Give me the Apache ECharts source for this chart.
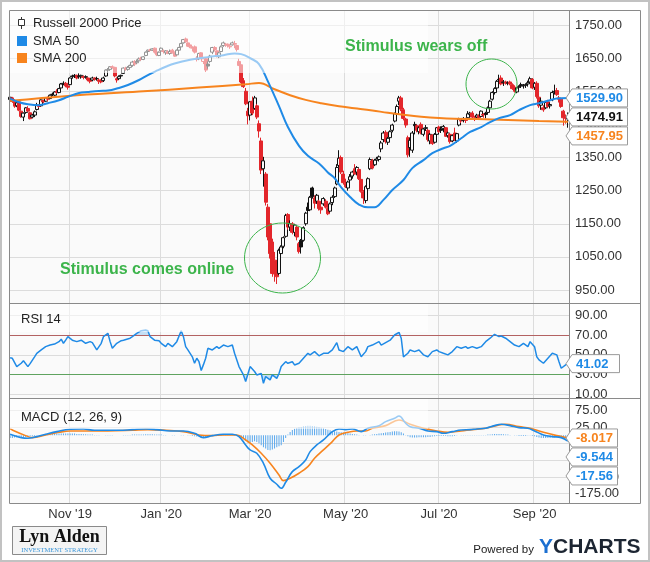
<!DOCTYPE html>
<html>
<head>
<meta charset="utf-8">
<script src="https://cdn.jsdelivr.net/npm/echarts@6/dist/echarts.min.js"></script>
<style>
html,body{margin:0;padding:0;background:#fff;}
#chart{width:650px;height:562px;}
</style>
</head>
<body>
<div id="chart"></div>
<script>
// ---------- trading days (categories) ----------
const tradingMonths = [
  ['2019-09',[25,26,27,30]],
  ['2019-10',[1,2,3,4,7,8,9,10,11,14,15,16,17,18,21,22,23,24,25,28,29,30,31]],
  ['2019-11',[1,4,5,6,7,8,11,12,13,14,15,18,19,20,21,22,25,26,27,29]],
  ['2019-12',[2,3,4,5,6,9,10,11,12,13,16,17,18,19,20,23,24,26,27,30,31]],
  ['2020-01',[2,3,6,7,8,9,10,13,14,15,16,17,21,22,23,24,27,28,29,30,31]],
  ['2020-02',[3,4,5,6,7,10,11,12,13,14,18,19,20,21,24,25,26,27,28]],
  ['2020-03',[2,3,4,5,6,9,10,11,12,13,16,17,18,19,20,23,24,25,26,27,30,31]],
  ['2020-04',[1,2,3,6,7,8,9,13,14,15,16,17,20,21,22,23,24,27,28,29,30]],
  ['2020-05',[1,4,5,6,7,8,11,12,13,14,15,18,19,20,21,22,26,27,28,29]],
  ['2020-06',[1,2,3,4,5,8,9,10,11,12,15,16,17,18,19,22,23,24,25,26,29,30]],
  ['2020-07',[1,2,6,7,8,9,10,13,14,15,16,17,20,21,22,23,24,27,28,29,30,31]],
  ['2020-08',[3,4,5,6,7,10,11,12,13,14,17,18,19,20,21,24,25,26,27,28,31]],
  ['2020-09',[1,2,3,4,8,9,10,11,14,15,16,17,18,21,22,23]]
];
const tickMonths = ['2019-11','2020-01','2020-03','2020-05','2020-07','2020-09'];
const tickLabels = ["Nov '19","Jan '20","Mar '20","May '20","Jul '20","Sep '20"];
const priceTicks = {min:950, max:1750, step:100};
const rsiTicks = {min:10, max:90, step:20};
const macdTicks = {min:-175, max:75, step:50};

// ---------- daily candles [open, high, low, close] ----------
const ohlcSep19 = [[1525,1537,1515,1532],[1530,1533,1515,1519],[1520,1526,1500,1505],[1506,1520,1502,1515]];
const ohlcOct19 = [
[1518,1522,1490,1493],[1490,1492,1470,1474],[1472,1486,1460,1484],[1486,1502,1482,1500],[1498,1505,1488,1490],
[1485,1488,1465,1467],[1472,1482,1468,1478],[1478,1492,1472,1488],[1495,1515,1492,1508],[1506,1510,1500,1504],
[1506,1526,1504,1524],[1522,1525,1514,1518],[1520,1532,1518,1530],[1530,1534,1520,1526],[1528,1540,1526,1538],
[1540,1546,1535,1541],[1538,1550,1535,1548],[1550,1556,1542,1546],[1546,1560,1544,1558],[1560,1575,1558,1572],
[1572,1580,1568,1574],[1574,1578,1562,1566],[1566,1570,1555,1562]];
const ohlcNov19 = [
[1570,1592,1568,1590],[1594,1600,1588,1596],[1596,1602,1590,1598],[1598,1600,1586,1590],[1594,1604,1588,1596],
[1594,1600,1588,1598],[1594,1598,1586,1592],[1592,1598,1588,1594],[1590,1592,1580,1584],[1584,1588,1574,1580],
[1584,1594,1580,1590],[1590,1592,1582,1586],[1588,1594,1582,1588],[1584,1588,1572,1580],[1580,1586,1574,1578],
[1582,1594,1578,1590],[1596,1616,1594,1614],[1614,1620,1608,1615],[1616,1626,1612,1624],[1624,1628,1618,1622]];
const ohlcDec19 = [
[1622,1624,1592,1596],[1588,1592,1576,1584],[1588,1598,1584,1594],[1596,1600,1590,1598],[1604,1622,1602,1620],
[1620,1624,1612,1616],[1616,1626,1612,1622],[1622,1630,1618,1628],[1628,1642,1624,1638],[1640,1644,1626,1632],
[1636,1646,1632,1640],[1642,1652,1640,1648],[1650,1654,1642,1646],[1646,1656,1644,1654],[1658,1670,1656,1668],
[1670,1676,1666,1674],[1674,1678,1670,1673],[1674,1680,1672,1678],[1680,1682,1664,1668],[1668,1670,1656,1660],
[1658,1670,1656,1668]];
const ohlcJan20 = [
[1672,1682,1662,1680],[1670,1676,1664,1672],[1666,1674,1660,1672],[1670,1674,1662,1664],[1664,1676,1660,1670],
[1674,1678,1664,1666],[1668,1670,1654,1656],[1660,1676,1658,1674],[1674,1684,1672,1682],[1684,1696,1680,1694],
[1696,1708,1694,1706],[1708,1712,1696,1700],[1696,1698,1684,1686],[1690,1694,1680,1684],[1680,1686,1670,1682],
[1684,1688,1664,1668],[1650,1656,1640,1646],[1648,1666,1644,1664],[1666,1668,1648,1650],[1640,1650,1632,1648],
[1648,1650,1608,1614]];
const ohlcFeb20 = [
[1632,1640,1618,1626],[1640,1660,1636,1656],[1668,1684,1662,1682],[1682,1686,1670,1676],[1672,1674,1652,1656],
[1654,1668,1650,1666],[1670,1688,1668,1684],[1688,1700,1684,1696],[1690,1696,1684,1692],[1692,1694,1682,1688],
[1684,1690,1678,1686],[1690,1700,1688,1696],[1694,1702,1680,1692],[1688,1690,1670,1676],[1640,1648,1626,1628],
[1630,1634,1574,1578],[1582,1590,1560,1564],[1550,1560,1508,1512],[1490,1500,1450,1476]];
const ohlcMar20 = [
[1478,1520,1462,1518],[1520,1534,1478,1484],[1498,1536,1494,1530],[1506,1512,1466,1472],[1452,1462,1410,1430],
[1400,1410,1300,1312],[1316,1352,1262,1340],[1300,1306,1205,1215],[1200,1210,1100,1110],[1150,1190,1045,1060],
[1095,1105,990,1000],[1040,1065,975,998],[1030,1040,968,990],[1000,1075,995,1070],[1060,1085,1045,1080],
[1082,1112,1076,1108],[1112,1180,1108,1175],[1178,1182,1132,1140],[1140,1160,1128,1150],[1150,1155,1118,1124],
[1124,1150,1112,1146],[1140,1144,1100,1110]];
const ohlcApr20 = [
[1090,1095,1060,1066],[1100,1104,1060,1080],[1100,1142,1096,1138],[1150,1186,1144,1182],[1200,1214,1176,1190],
[1192,1234,1188,1230],[1258,1262,1226,1232],[1228,1236,1196,1212],[1218,1240,1210,1236],[1218,1222,1190,1196],
[1200,1212,1180,1192],[1210,1230,1204,1226],[1218,1224,1196,1200],[1196,1200,1176,1180],[1188,1214,1184,1210],
[1214,1236,1206,1230],[1232,1262,1228,1258],[1270,1330,1266,1320],[1326,1372,1320,1348],[1350,1356,1300,1306],
[1300,1310,1268,1274]];
const ohlcMay20 = [
[1272,1286,1258,1262],[1258,1280,1250,1276],[1282,1300,1276,1292],[1294,1310,1286,1306],[1316,1330,1298,1300],
[1306,1324,1296,1320],[1314,1318,1282,1286],[1284,1290,1244,1248],[1246,1252,1210,1228],[1220,1266,1212,1262],
[1256,1290,1250,1286],[1316,1350,1312,1344],[1340,1346,1314,1318],[1328,1346,1324,1342],[1342,1352,1334,1346],
[1344,1356,1338,1352],[1376,1400,1366,1394],[1404,1430,1396,1424],[1426,1432,1392,1398],[1396,1412,1388,1408]];
const ohlcJun20 = [
[1410,1432,1406,1428],[1432,1452,1426,1448],[1460,1486,1456,1482],[1482,1510,1476,1504],[1520,1536,1508,1530],
[1530,1536,1490,1496],[1494,1500,1462,1468],[1466,1470,1440,1448],[1410,1416,1350,1358],[1380,1410,1352,1402],
[1372,1430,1364,1424],[1450,1458,1420,1446],[1446,1450,1426,1432],[1428,1444,1420,1440],[1450,1456,1420,1424],
[1420,1440,1414,1436],[1440,1448,1430,1438],[1432,1436,1398,1404],[1400,1424,1390,1420],[1418,1420,1388,1392],
[1396,1424,1392,1420],[1420,1442,1414,1440]];
const ohlcJul20 = [
[1442,1446,1424,1428],[1436,1444,1424,1432],[1438,1448,1426,1444],[1440,1442,1412,1414],[1416,1428,1410,1424],
[1420,1424,1392,1398],[1400,1420,1396,1416],[1424,1440,1400,1404],[1400,1424,1394,1422],[1448,1470,1444,1466],
[1462,1468,1454,1460],[1462,1472,1456,1468],[1466,1470,1454,1462],[1470,1490,1466,1482],[1480,1488,1474,1484],
[1484,1490,1466,1472],[1468,1476,1460,1470],[1472,1482,1468,1478],[1476,1480,1466,1470],[1474,1492,1472,1490],
[1480,1484,1470,1478],[1484,1488,1468,1480]];
const ohlcAug20 = [
[1486,1504,1482,1500],[1500,1524,1496,1520],[1526,1550,1522,1546],[1546,1562,1540,1558],[1560,1584,1556,1580],
[1586,1600,1574,1584],[1590,1598,1568,1572],[1576,1584,1566,1578],[1578,1582,1570,1574],[1574,1580,1568,1576],
[1578,1582,1568,1572],[1570,1574,1554,1558],[1562,1568,1546,1550],[1548,1562,1544,1560],[1562,1568,1556,1564],
[1570,1576,1560,1566],[1566,1572,1558,1568],[1568,1574,1560,1570],[1572,1582,1564,1576],[1578,1594,1574,1588],
[1586,1590,1556,1560]];
const ohlcSep20 = [
[1562,1578,1554,1574],[1574,1580,1528,1534],[1532,1540,1500,1506],[1508,1530,1494,1520],[1500,1508,1488,1494],
[1500,1520,1496,1516],[1518,1524,1500,1504],[1506,1516,1498,1510],[1524,1552,1520,1546],[1550,1570,1540,1548],
[1552,1560,1536,1540],[1530,1536,1516,1526],[1526,1530,1500,1504],[1490,1494,1446,1470],[1472,1480,1452,1468],
[1466,1486,1440,1474.91]];

// ---------- moving averages, read as [day index, value] ----------
const sma50Pts = [[0,1528],[4,1517],[8,1511],[13,1508],[17,1514],[22,1523],[26,1533],[31,1545],[35,1548],[40,1551],
[44,1552],[49,1560],[53,1569],[58,1584],[62,1599],[66,1612],[70,1624],[74,1634],[81,1645],[89,1653],[96,1659],
[101,1664],[104,1662],[108,1650],[112,1632],[116,1580],[121,1505],[125,1442],[130,1385],[134,1355],[139,1332],
[143,1305],[146,1288],[149,1260],[153,1231],[157,1208],[161,1200],[164,1200],[168,1222],[172,1252],[177,1282],
[181,1318],[186,1342],[190,1363],[195,1378],[198,1385],[203,1408],[207,1427],[212,1442],[216,1457],[220,1469],
[225,1478],[229,1493],[234,1508],[238,1514],[243,1523],[246,1528],[251,1529.90]];
const sma200Pts = [[0,1521],[26,1536],[58,1549],[85,1561],[106,1571],[112,1575],[119,1556],[126,1538],[133,1524],
[140,1514],[148,1505],[155,1499],[163,1492],[170,1485],[178,1478],[185,1473],[193,1469],[200,1467],[210,1466],
[224,1463],[238,1460],[251,1457.95]];

// ---------- RSI 14 ----------
const rsiPts = [[0,47],[1,46.5],[3,38],[5,41.4],[6,44],[8,38],[9,41],[11,48],[12,51.6],[14,55],[16,58.4],[18,60],
[20,61],[22,63.5],[23,66],[24,61.8],[25,65],[26,68.6],[28,65],[30,63.5],[32,65],[34,61.8],[36,63.5],[37,62.5],
[39,55],[41,61.8],[42,68.6],[44,72],[45,63.5],[46,56.7],[48,61.8],[50,64.5],[51,65],[54,67],[55,68.6],[57,72],
[59,74.7],[61,75.4],[62,74.7],[63,68.6],[65,65],[67,64.5],[68,61.8],[70,58.4],[71,61.8],[73,58.4],[75,63.5],
[77,74.7],[78,68.6],[79,58.4],[80,55],[82,48],[83,41.4],[84,46.5],[85,43],[86,34],[87,40],[88,46.5],[89,56.7],
[91,55],[93,58.4],[94,56.7],[96,60],[98,58.4],[100,60],[101,51.6],[103,38],[105,29.5],[106,22.7],[107,30.5],
[108,38],[110,33],[111,29.5],[113,31],[114,21],[115,27.8],[117,24.4],[118,29.5],[120,26],[121,31],[122,38],
[124,43],[125,41.4],[127,43],[128,39.7],[130,41.4],[132,46.5],[134,51.6],[135,50],[137,53.3],[139,49],[141,51.6],
[143,51.6],[145,55],[147,62.5],[148,55],[150,53.3],[152,58.4],[154,55],[156,58.4],[158,48],[160,53.3],[161,58.4],
[163,60],[166,63.5],[167,60],[169,62.5],[171,65],[173,70.3],[175,73],[176,67],[177,48],[179,51.6],[180,55],
[182,53.3],[184,55],[186,50],[188,48],[190,53.3],[192,55],[193,53.3],[195,51.6],[197,50],[199,53.3],[201,58.4],
[203,56.7],[205,58.4],[206,56.7],[208,58.4],[210,56.7],[212,58.4],[214,63.5],[216,67],[218,71],[220,68.6],
[221,69.3],[223,67],[225,63.5],[227,60],[229,58.4],[231,61.8],[233,58.4],[234,63.5],[236,58.4],[237,48],
[238,44.8],[240,41.4],[242,46.5],[244,51.6],[246,50],[247,43],[248,36.3],[250,39.7],[251,41.02]];
const rsiBands = {overbought:70, oversold:30};

// ---------- MACD (12, 26, 9) ----------
const macdPts = [[0,3],[1,1],[5,-7],[8,-9],[12,-4],[16,3],[21,11],[27,18],[33,19],[38,15],[44,15],[49,15],[55,17],
[61,19],[66,17],[72,13],[78,13],[83,6],[87,-7],[91,-1],[96,3],[100,3],[103,-4],[106,-29],[108,-44],[111,-54],
[114,-84],[117,-129],[120,-147],[122,-159],[124,-141],[127,-109],[130,-94],[133,-74],[135,-49],[138,-29],[141,-14],
[145,11],[148,19],[151,17],[154,19],[158,11],[161,21],[166,29],[169,41],[173,51],[175,58],[178,36],[180,26],
[184,21],[188,13],[192,11],[195,6],[199,11],[203,16],[207,17],[210,19],[214,21],[218,29],[221,33],[225,29],
[229,23],[233,21],[236,13],[240,1],[244,-4],[248,-7],[251,-17.56]];
const signalPts = [[0,20],[1,16],[7,-1],[10,-7],[16,1],[22,9],[27,13],[33,13],[44,13],[55,15],[62,17],[70,15],
[78,11],[85,1],[91,-1],[96,1],[102,1],[106,-14],[109,-29],[113,-54],[117,-84],[121,-119],[123,-136],[126,-129],
[130,-114],[134,-94],[137,-69],[141,-44],[145,-19],[148,1],[152,9],[156,13],[160,13],[163,21],[169,29],[175,46],
[180,33],[186,21],[192,13],[197,9],[203,13],[208,17],[214,21],[220,31],[223,33],[229,26],[234,21],[240,9],
[246,-1],[251,-8.017]];
const histSep19 = [-8,-8,-7,-7];
const histOct19 = [-6,-6,-5,-5,-4,-4,-3,-2,-1,0,1,2,3,3,4,4,5,5,5,5,5,5,5];
const histNov19 = [5,5,5,4,4,4,3,3,2,2,2,1,1,1,0,0,1,1,1,1];
const histDec19 = [0,0,0,0,1,1,1,1,2,2,2,2,2,2,3,3,3,3,2,2,2];
const histJan20 = [2,1,1,0,0,-1,-1,0,0,1,1,0,-1,-1,-2,-3,-4,-4,-5,-6,-7];
const histFeb20 = [-6,-4,-2,-1,0,1,2,2,2,2,2,2,1,0,-3,-8,-12,-17,-22];
const histMar20 = [-22,-20,-18,-20,-24,-30,-36,-40,-44,-45,-43,-40,-36,-33,-30,-20,-8,2,10,16,20,22];
const histApr20 = [24,25,27,28,29,29,28,27,26,25,23,21,19,17,15,13,12,11,10,9,8];
const histMay20 = [7,6,5,4,3,2,1,0,-1,-1,0,1,2,3,4,5,6,7,8,9];
const histJun20 = [10,11,12,12,11,9,5,1,-3,-6,-7,-7,-7,-6,-6,-6,-6,-5,-5,-4,-3,-2];
const histJul20 = [-2,-2,-2,-2,-3,-3,-3,-2,-1,0,1,1,1,1,1,1,1,1,1,1,1,1];
const histAug20 = [2,2,3,4,4,4,4,3,2,2,1,0,-1,-1,-2,-2,-2,-2,-1,-1,-2];
const histSep20 = [-3,-5,-7,-8,-8,-8,-8,-8,-7,-6,-6,-7,-8,-9,-9,-9.544];

// ---------- build tables ----------
const dates = [];
tradingMonths.forEach(([m, days]) => days.forEach(d => dates.push(m + '-' + String(d).padStart(2,'0'))));
const N = dates.length;
const ohlc = [].concat(ohlcSep19, ohlcOct19, ohlcNov19, ohlcDec19, ohlcJan20, ohlcFeb20, ohlcMar20,
  ohlcApr20, ohlcMay20, ohlcJun20, ohlcJul20, ohlcAug20, ohlcSep20);
const hist = [].concat(histSep19, histOct19, histNov19, histDec19, histJan20, histFeb20, histMar20,
  histApr20, histMay20, histJun20, histJul20, histAug20, histSep20);
function toSeries(pts){ const a = new Array(N).fill(null); pts.forEach(([i,v]) => { a[i] = v; }); return a; }
const labelAt = {};
tickMonths.forEach((m, k) => { const i = dates.findIndex(d => d.startsWith(m)); labelAt[i] = tickLabels[k]; });
const isTick = i => labelAt[i] !== undefined;

const FONT = '"Liberation Sans", Arial, Helvetica, sans-serif';
const BLUE = '#1f8ae6', ORANGE = '#f7841e', RED = '#e3262b', INK = '#111', GREEN = '#3cb44b';

const candleData = ohlc.map((r, i) => {
  const [o, h, l, c] = r;
  const prev = i > 0 ? ohlc[i-1][3] : o;
  const col = c >= prev ? INK : RED;
  const fill = c > o ? '#fafafa' : col;
  return { value: [o, c, l, h], itemStyle: { color: fill, color0: fill, borderColor: col, borderColor0: col, borderWidth: 1 } };
});

// layout of panels
const PL = 9, PWID = 560;
const P = { top: 25, h: 265 }, R = { top: 315.7, h: 78.3 }, M = { top: 410.3, h: 83.3 };
const y70 = R.top + (rsiTicks.max - rsiBands.overbought) / (rsiTicks.max - rsiTicks.min) * R.h;
const y30 = R.top + (rsiTicks.max - rsiBands.oversold) / (rsiTicks.max - rsiTicks.min) * R.h;
const H = 562;
const fillC = 'rgba(31,138,230,0.35)', noC = 'rgba(31,138,230,0)';
const aboveGrad = new echarts.graphic.LinearGradient(0, 0, 0, H, [
  {offset:0,color:fillC},{offset:y70/H,color:fillC},{offset:y70/H,color:noC},{offset:1,color:noC}], true);
const belowGrad = new echarts.graphic.LinearGradient(0, 0, 0, H, [
  {offset:0,color:noC},{offset:y30/H,color:noC},{offset:y30/H,color:fillC},{offset:1,color:fillC}], true);

const yLab = { fontSize: 13, color: '#333', fontFamily: FONT, margin: 6, formatter: v => v.toFixed(2) };
const xBase = { type: 'category', data: dates, boundaryGap: true };
const yBase = { type: 'value', position: 'right', axisLine: {show:false}, axisTick: {show:false},
  axisLabel: yLab, splitLine: { lineStyle: { color: '#dcdcdc', width: 1 } } };

const chart = echarts.init(document.getElementById('chart'), null, { renderer: 'canvas' });
const option = {
  animation: false,
  backgroundColor: '#ffffff',
  grid: [
    { left: PL, width: PWID, top: 10, height: 493, show: true, backgroundColor: '#fafafa', borderWidth: 0 },
    { left: PL, width: PWID, top: P.top, height: P.h },
    { left: PL, width: PWID, top: R.top, height: R.h },
    { left: PL, width: PWID, top: M.top, height: M.h }
  ],
  xAxis: [
    Object.assign({}, xBase, { gridIndex: 0, axisLine: {show:false}, axisTick: {show:false},
      splitLine: { show: true, interval: (i) => isTick(i), lineStyle: { color: '#dcdcdc' } },
      axisLabel: { interval: (i) => isTick(i), formatter: (v, i) => labelAt[i] || '', margin: 5,
        fontSize: 13, color: '#333', fontFamily: FONT } }),
    Object.assign({}, xBase, { gridIndex: 1, show: false }),
    Object.assign({}, xBase, { gridIndex: 2, show: false }),
    Object.assign({}, xBase, { gridIndex: 3, show: false })
  ],
  yAxis: [
    { gridIndex: 0, type: 'value', show: false, min: 0, max: 1 },
    Object.assign({}, yBase, { gridIndex: 1, min: priceTicks.min, max: priceTicks.max, interval: priceTicks.step }),
    Object.assign({}, yBase, { gridIndex: 2, min: rsiTicks.min, max: rsiTicks.max, interval: rsiTicks.step }),
    Object.assign({}, yBase, { gridIndex: 3, min: macdTicks.min, max: macdTicks.max, interval: macdTicks.step })
  ],
  series: [
    { type: 'candlestick', xAxisIndex: 1, yAxisIndex: 1, data: candleData, barWidth: 3.4, barMinWidth: 3, z: 3 },
    { type: 'line', xAxisIndex: 1, yAxisIndex: 1, data: toSeries(sma200Pts), connectNulls: true, smooth: 0.4,
      showSymbol: false, lineStyle: { color: ORANGE, width: 2 }, z: 4 },
    { type: 'line', xAxisIndex: 1, yAxisIndex: 1, data: toSeries(sma50Pts), connectNulls: true, smooth: 0.4,
      showSymbol: false, lineStyle: { color: BLUE, width: 2 }, z: 5 },
    { type: 'line', xAxisIndex: 2, yAxisIndex: 2, data: toSeries(rsiPts), connectNulls: true, showSymbol: false,
      lineStyle: { width: 0 }, areaStyle: { origin: rsiBands.overbought, color: aboveGrad }, z: 3 },
    { type: 'line', xAxisIndex: 2, yAxisIndex: 2, data: toSeries(rsiPts), connectNulls: true, showSymbol: false,
      lineStyle: { width: 0 }, areaStyle: { origin: rsiBands.oversold, color: belowGrad }, z: 3 },
    { type: 'line', xAxisIndex: 2, yAxisIndex: 2, data: toSeries(rsiPts), connectNulls: true, showSymbol: false,
      lineStyle: { color: BLUE, width: 1.5 }, z: 5,
      markLine: { silent: true, symbol: 'none', label: { show: false },
        data: [ { yAxis: rsiBands.overbought, lineStyle: { color: '#b36262', width: 1, type: 'solid' } },
                { yAxis: rsiBands.oversold, lineStyle: { color: '#5fa35f', width: 1, type: 'solid' } } ] } },
    { type: 'bar', xAxisIndex: 3, yAxisIndex: 3, data: hist, barWidth: 1, itemStyle: { color: '#5aa8ec' }, z: 3 },
    { type: 'line', xAxisIndex: 3, yAxisIndex: 3, data: toSeries(signalPts), connectNulls: true, smooth: 0.4,
      showSymbol: false, lineStyle: { color: ORANGE, width: 1.6 }, z: 4 },
    { type: 'line', xAxisIndex: 3, yAxisIndex: 3, data: toSeries(macdPts), connectNulls: true, smooth: 0.4,
      showSymbol: false, lineStyle: { color: BLUE, width: 1.6 }, z: 5 }
  ]
};
chart.setOption(option);

// ---------- decorations ----------
const g = [];
const txt = (x, y, text, font, fill, align) => ({ type: 'text', z: 120, style: { x, y, text, font, fill,
  align: align || 'left', verticalAlign: 'middle' } });
// outer border
g.push({ type: 'rect', z: 130, shape: { x: 1, y: 1, width: 648, height: 560 }, style: { fill: 'none', stroke: '#c2c2c2', lineWidth: 2 } });
// legend veils
[[10, 62], [303, 28], [398, 30]].forEach(([y, h]) => g.push({ type: 'rect', z: 90,
  shape: { x: 10, y: y + 1, width: 418, height: h }, style: { fill: 'rgba(255,255,255,0.55)' } }));
// frame
g.push({ type: 'rect', z: 100, shape: { x: 9.5, y: 10.5, width: 631, height: 493 }, style: { fill: 'none', stroke: '#8a8a8a', lineWidth: 1 } });
[303.5, 398.5].forEach(y => g.push({ type: 'line', z: 100, shape: { x1: 9.5, y1: y, x2: 640.5, y2: y }, style: { stroke: '#8a8a8a', lineWidth: 1 } }));
g.push({ type: 'line', z: 100, shape: { x1: 569.5, y1: 10.5, x2: 569.5, y2: 503.5 }, style: { stroke: '#8a8a8a', lineWidth: 1 } });
// legends
g.push({ type: 'line', z: 120, shape: { x1: 21.5, y1: 17, x2: 21.5, y2: 29 }, style: { stroke: '#333', lineWidth: 1 } });
g.push({ type: 'rect', z: 121, shape: { x: 18.5, y: 19.5, width: 6, height: 6 }, style: { fill: '#fff', stroke: '#333', lineWidth: 1 } });
g.push(txt(33, 23, 'Russell 2000 Price', '13px ' + FONT, '#222'));
g.push({ type: 'rect', z: 120, shape: { x: 17, y: 36, width: 10, height: 10 }, style: { fill: BLUE } });
g.push(txt(33, 41, 'SMA 50', '13px ' + FONT, '#222'));
g.push({ type: 'rect', z: 120, shape: { x: 17, y: 53, width: 10, height: 10 }, style: { fill: ORANGE } });
g.push(txt(33, 58, 'SMA 200', '13px ' + FONT, '#222'));
g.push(txt(21, 319, 'RSI 14', '13px ' + FONT, '#222'));
g.push(txt(21, 417, 'MACD (12, 26, 9)', '13px ' + FONT, '#222'));
// annotations
g.push(txt(345, 47, 'Stimulus wears off', 'bold 16px ' + FONT, GREEN));
g.push(txt(60, 270, 'Stimulus comes online', 'bold 16px ' + FONT, GREEN));
g.push({ type: 'ellipse', z: 110, shape: { cx: 491.5, cy: 84, rx: 25.5, ry: 25 }, style: { fill: 'none', stroke: GREEN, lineWidth: 1 } });
g.push({ type: 'ellipse', z: 110, shape: { cx: 282.5, cy: 258, rx: 38, ry: 35 }, style: { fill: 'none', stroke: GREEN, lineWidth: 1 } });
// footer
g.push({ type: 'rect', z: 120, shape: { x: 12.5, y: 526.5, width: 94, height: 28 }, style: { fill: '#f4f4f4', stroke: '#8a8a8a', lineWidth: 1 } });
g.push(txt(59.5, 537, 'Lyn Alden', 'bold 18px "Liberation Serif", "DejaVu Serif", serif', '#111', 'center'));
g.push(txt(59.5, 550, 'INVESTMENT STRATEGY', '6.5px "Liberation Serif", serif', '#3a95d8', 'center'));
g.push(txt(534, 550, 'Powered by', '11.5px ' + FONT, '#222', 'right'));
g.push(txt(539, 547, 'Y', 'bold 21px ' + FONT, '#1b6fd1'));
g.push(txt(553, 547, 'CHARTS', 'bold 21px ' + FONT, '#1c2532'));

// value badges on the right axis
function badges(list, axisIndex, right) {
  const items = list.map(b => Object.assign({}, b, { y: chart.convertToPixel({ yAxisIndex: axisIndex }, b.v) }))
    .sort((a, b) => a.y - b.y);
  let last = -1e9;
  items.forEach(b => {
    const cy = Math.max(b.y, last + 19); last = cy;
    g.push({ type: 'polygon', z: 125, shape: { points: [[566, cy], [572, cy - 9], [right, cy - 9], [right, cy + 9], [572, cy + 9]] },
      style: { fill: '#fff', stroke: '#9a9a9a', lineWidth: 1 } });
    g.push(Object.assign(txt(576, cy + 0.5, b.t, 'bold 13px ' + FONT, b.c), { z: 126 }));
  });
}
badges([{ v: 1529.90, t: '1529.90', c: BLUE }, { v: 1474.91, t: '1474.91', c: INK }, { v: 1457.95, t: '1457.95', c: ORANGE }], 1, 627.5);
badges([{ v: 41.02, t: '41.02', c: BLUE }], 2, 619.5);
badges([{ v: -8.017, t: '-8.017', c: ORANGE }, { v: -9.544, t: '-9.544', c: BLUE }, { v: -17.56, t: '-17.56', c: BLUE }], 3, 617.5);

chart.setOption({ graphic: { elements: g } });
</script>
</body>
</html>
